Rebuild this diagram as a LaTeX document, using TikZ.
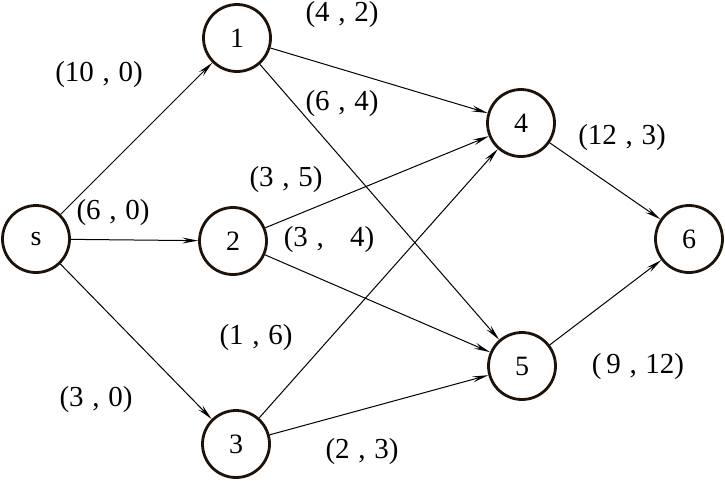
\documentclass[tikz,border=0pt]{standalone}
\usepackage{fontspec}
\setmainfont{Liberation Serif}
\usetikzlibrary{arrows.meta}
\newcommand\mylblfont{\fontsize{29}{29}\selectfont\spaceskip 0.3em plus 0pt minus 0pt\relax}
\begin{document}
\begin{tikzpicture}[x=1pt,y=-1pt,
  vertex/.style={circle,draw=black!85!brown,line width=2.8pt,minimum size=67pt,inner sep=0pt,font=\fontsize{28}{28}\selectfont},
  edge/.style={line width=1pt,-{Stealth[length=16pt,width=6pt,inset=6pt]}},
  lbl/.style={font=\mylblfont,inner sep=0pt}]
\useasboundingbox (0,0) rectangle (725,480);
\node[vertex] (s) at (36,239) {s};
\node[vertex] (n1) at (237,38) {1};
\node[vertex] (n2) at (233,241) {2};
\node[vertex] (n3) at (236,444) {3};
\node[vertex] (n4) at (521,123) {4};
\node[vertex] (n5) at (522,366) {5};
\node[vertex] (n6) at (689,239) {6};
\draw[edge] (s) -- (n1);
\draw[edge] (s) -- (n2);
\draw[edge] (s) -- (n3);
\draw[edge] (n1) -- (n4);
\draw[edge] (n1) -- (n5);
\draw[edge] (n2) -- (n4);
\draw[edge] (n2) -- (n5);
\draw[edge] (n3) -- (n4);
\draw[edge] (n3) -- (n5);
\draw[edge] (n4) -- (n6);
\draw[edge] (n5) -- (n6);
\node[lbl] (l1) at (342,15) {(4 , 2)};
\node[lbl] (l2) at (99,75) {(10 , 0)};
\node[lbl] (l3) at (342,104) {(6 , 4)};
\node[lbl] (l4) at (622,138) {(12 , 3)};
\node[lbl] (l5) at (286,180) {(3 , 5)};
\node[lbl] (l6) at (113,213) {(6 , 0)};
\node[lbl] (l7) at (329,240) {(3 ,\hspace{0.9em}4)};
\node[lbl] (l8) at (256,338) {(1 , 6)};
\node[lbl] (l9) at (638,367) {(\,9 , 12)};
\node[lbl] (l10) at (96,400) {(3 , 0)};
\node[lbl] (l11) at (362,452) {(2 , 3)};
\end{tikzpicture}
\end{document}
